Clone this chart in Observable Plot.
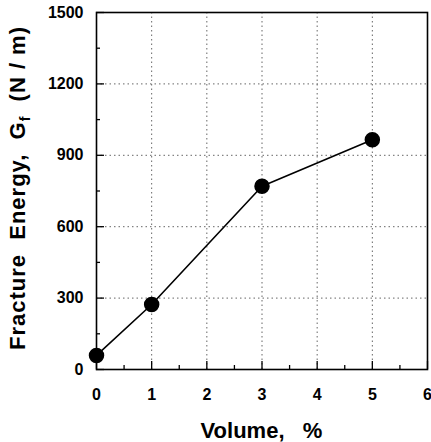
<!DOCTYPE html>
<html><head><meta charset="utf-8">
<script src="https://cdn.jsdelivr.net/npm/d3@7"></script>
<script src="https://cdn.jsdelivr.net/npm/@observablehq/plot@0.6"></script>
<style>body{margin:0;background:#fff}#chart svg{display:block}</style>
</head><body><div id="chart"></div>
<script>
const volume = [0, 1, 3, 5];
const energy = [59, 273, 770, 965];
const xTicks = [0, 1, 2, 3, 4, 5, 6];
const yTicks = [0, 300, 600, 900, 1200, 1500];
const xMinor = [0.5, 1.5, 2.5, 3.5, 4.5, 5.5];
const yMinor = [150, 450, 750, 1050, 1350];
const xGrid = [1, 2, 3, 4, 5];
const yGrid = [300, 600, 900, 1200];
const xLabel = "Volume,   %";
const yLabelMain = "Fracture  Energy,  G";
const yLabelSub = "f";
const yLabelEnd = "  (N / m)";

const W = 431, H = 442, mL = 96, mR = 4, mT = 12, mB = 73;
const fw = W - mL - mR, fh = H - mT - mB;
const data = volume.map((v, i) => ({v, e: energy[i]}));
const font = "'Liberation Sans', Arial, Helvetica, sans-serif";

const plot = Plot.plot({
  width: W, height: H,
  marginLeft: mL, marginRight: mR, marginTop: mT, marginBottom: mB,
  style: {fontFamily: font, fontWeight: "bold", fontSize: "16px", color: "#000", background: "#fff"},
  x: {domain: [0, 6], ticks: xTicks, label: null},
  y: {domain: [0, 1500], ticks: yTicks, label: null},
  marks: [
    Plot.ruleX(xGrid, {x: d => d, stroke: "#666", strokeWidth: 1, strokeDasharray: "1.5,3"}),
    Plot.ruleY(yGrid, {y: d => d, stroke: "#666", strokeWidth: 1, strokeDasharray: "1.5,3"}),
    Plot.tickX(xTicks, {x: d => d, insetTop: fh - 8, stroke: "#000", strokeWidth: 1.3}),
    Plot.tickX(xMinor, {x: d => d, insetTop: fh - 4, stroke: "#000", strokeWidth: 1.3}),
    Plot.tickY(yTicks, {y: d => d, insetRight: fw - 8, stroke: "#000", strokeWidth: 1.3}),
    Plot.tickY(yMinor, {y: d => d, insetRight: fw - 4, stroke: "#000", strokeWidth: 1.3}),
    Plot.frame({stroke: "#000", strokeWidth: 1.6}),
    Plot.axisX({ticks: xTicks, tickSize: 0, tickPadding: 19, tickFormat: d => String(d), fontSize: 16, fontWeight: "bold", label: null}),
    Plot.axisY({ticks: yTicks, tickSize: 0, tickPadding: 13, tickFormat: d => String(d), fontSize: 16, fontWeight: "bold", label: null}),
    Plot.line(data, {x: "v", y: "e", stroke: "#000", strokeWidth: 1.6}),
    Plot.dot(data, {x: "v", y: "e", r: 7, fill: "#000", stroke: "#000"})
  ]
});

const svg = d3.select(plot);
svg.append("text")
  .attr("x", mL + fw / 2).attr("y", 438)
  .attr("text-anchor", "middle")
  .style("white-space", "pre")
  .attr("font-size", 22).attr("font-weight", "bold").attr("font-family", font)
  .text(xLabel);

const yl = svg.append("text")
  .attr("transform", `translate(25,188) rotate(-90)`)
  .attr("text-anchor", "middle")
  .style("white-space", "pre")
  .style("letter-spacing", "1px")
  .attr("font-size", 22).attr("font-weight", "bold").attr("font-family", font);
yl.append("tspan").text(yLabelMain);
yl.append("tspan").attr("dy", 5).attr("font-size", 14).text(yLabelSub);
yl.append("tspan").attr("dy", -5).text(yLabelEnd);

document.getElementById("chart").appendChild(plot);
</script>
</body></html>
